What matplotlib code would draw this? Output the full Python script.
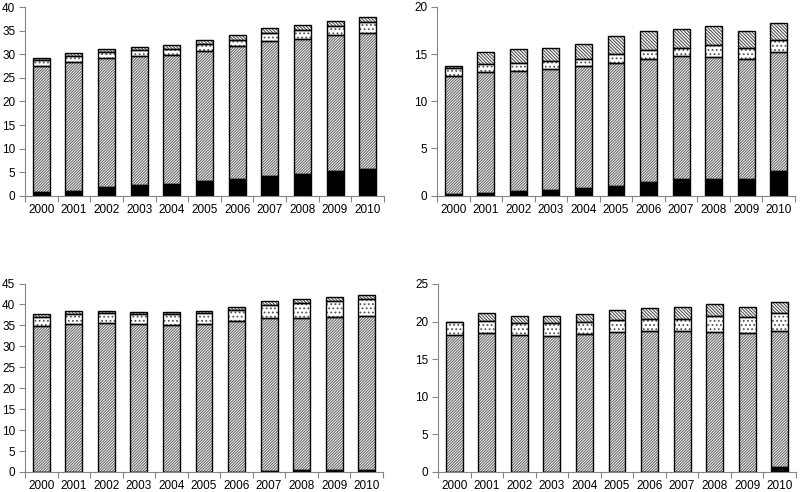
import numpy as np
import matplotlib
matplotlib.use("Agg")
import matplotlib.pyplot as plt

plt.rcParams['font.family'] = ['Liberation Sans', 'DejaVu Sans']
plt.rcParams['hatch.linewidth'] = 0.8

years = ['2000', '2001', '2002', '2003', '2004', '2005', '2006', '2007', '2008', '2009', '2010']

# Panel 1 (top-left)
p1_black = [0.9, 1.1, 1.8, 2.3, 2.5, 3.2, 3.6, 4.3, 4.6, 5.2, 5.7]
p1_main = [26.6, 27.2, 27.4, 27.3, 27.4, 27.5, 28.1, 28.6, 28.6, 28.8, 28.8]
p1_dots = [1.3, 1.3, 1.3, 1.3, 1.2, 1.4, 1.4, 1.6, 1.9, 2.0, 2.3]
p1_top = [0.4, 0.6, 0.6, 0.7, 0.8, 0.9, 1.0, 1.1, 1.1, 1.0, 1.1]

# Panel 2 (top-right)
p2_black = [0.2, 0.3, 0.5, 0.6, 0.8, 1.0, 1.4, 1.7, 1.8, 1.7, 2.6]
p2_main = [12.5, 12.8, 12.7, 12.8, 12.9, 13.1, 13.1, 13.1, 12.9, 12.8, 12.6]
p2_dots = [0.8, 0.9, 0.9, 0.9, 0.8, 0.9, 0.9, 0.9, 1.3, 1.1, 1.3]
p2_top = [0.2, 1.25, 1.4, 1.4, 1.6, 1.9, 2.1, 2.0, 1.95, 1.9, 1.8]

# Panel 3 (bottom-left)
p3_black = [0.0, 0.0, 0.0, 0.0, 0.0, 0.0, 0.1, 0.3, 0.4, 0.5, 0.5]
p3_main = [34.9, 35.4, 35.5, 35.3, 35.1, 35.4, 35.9, 36.5, 36.4, 36.5, 36.7]
p3_dots = [2.2, 2.4, 2.5, 2.5, 2.5, 2.5, 2.7, 3.1, 3.6, 3.9, 4.1]
p3_top = [0.5, 0.6, 0.5, 0.5, 0.6, 0.6, 0.7, 0.9, 0.8, 0.9, 1.0]

# Panel 4 (bottom-right)
p4_black = [0.0, 0.0, 0.0, 0.0, 0.0, 0.0, 0.05, 0.05, 0.05, 0.05, 0.7]
p4_main = [18.2, 18.5, 18.2, 18.1, 18.3, 18.6, 18.65, 18.65, 18.55, 18.45, 18.0]
p4_dots = [1.7, 1.6, 1.6, 1.7, 1.6, 1.6, 1.6, 1.65, 2.2, 2.1, 2.5]
p4_top = [0.1, 1.0, 1.0, 1.0, 1.1, 1.4, 1.5, 1.55, 1.6, 1.4, 1.4]

panels = [
    (p1_black, p1_main, p1_dots, p1_top, 40, 5),
    (p2_black, p2_main, p2_dots, p2_top, 20, 5),
    (p3_black, p3_main, p3_dots, p3_top, 45, 5),
    (p4_black, p4_main, p4_dots, p4_top, 25, 5),
]

W, H = 800, 492
boxes = [
    (25, 7, 384, 196),
    (437, 7, 795, 195.5),
    (25, 283.5, 383, 472),
    (438, 284, 796, 472),
]

fig = plt.figure(figsize=(8, 4.92), dpi=100)
axcol = '#868686'
x = np.arange(len(years))
bw = 0.52

for (blk, mn, dt, tp, ymax, step), (l, t, r, b) in zip(panels, boxes):
    ax = fig.add_axes([l / W, 1 - b / H, (r - l) / W, (b - t) / H])
    blk = np.array(blk); mn = np.array(mn); dt = np.array(dt); tp = np.array(tp)
    segs = [
        (blk, 0, 'black', None, '#707070'),
        (mn, blk, 'white', '/' * 12, '#6a6a6a'),
        (dt, blk + mn, 'white', '....', '#555555'),
        (tp, blk + mn + dt, 'white', '\\' * 10, '#555555'),
    ]
    for vals, bottom, fc, hatch, hc in segs:
        ax.bar(x, vals, bw, bottom=bottom, color=fc, edgecolor=hc,
               linewidth=0, hatch=hatch, zorder=2)
        ax.bar(x, vals, bw, bottom=bottom, facecolor='none', edgecolor='black',
               linewidth=1.0, zorder=3)
    ax.set_xlim(-0.5, len(years) - 0.5)
    ax.set_ylim(0, ymax)
    ax.set_yticks(np.arange(0, ymax + 0.1, step))
    ax.set_xticks(np.arange(-0.5, len(years), 1))
    ax.set_xticklabels([])
    ax.set_xticks(x, minor=True)
    ax.set_xticklabels(years, minor=True)
    ax.tick_params(axis='x', which='major', length=4, width=0.8, color=axcol, direction='out')
    ax.tick_params(axis='x', which='minor', length=0, pad=6, labelsize=8.5)
    ax.tick_params(axis='y', length=4, width=0.8, color=axcol, direction='out', labelsize=8.5, pad=3)
    for s in ['top', 'right']:
        ax.spines[s].set_visible(False)
    for s in ['left', 'bottom']:
        ax.spines[s].set_color(axcol)
        ax.spines[s].set_linewidth(0.8)

fig.savefig('out.png', dpi=100)
